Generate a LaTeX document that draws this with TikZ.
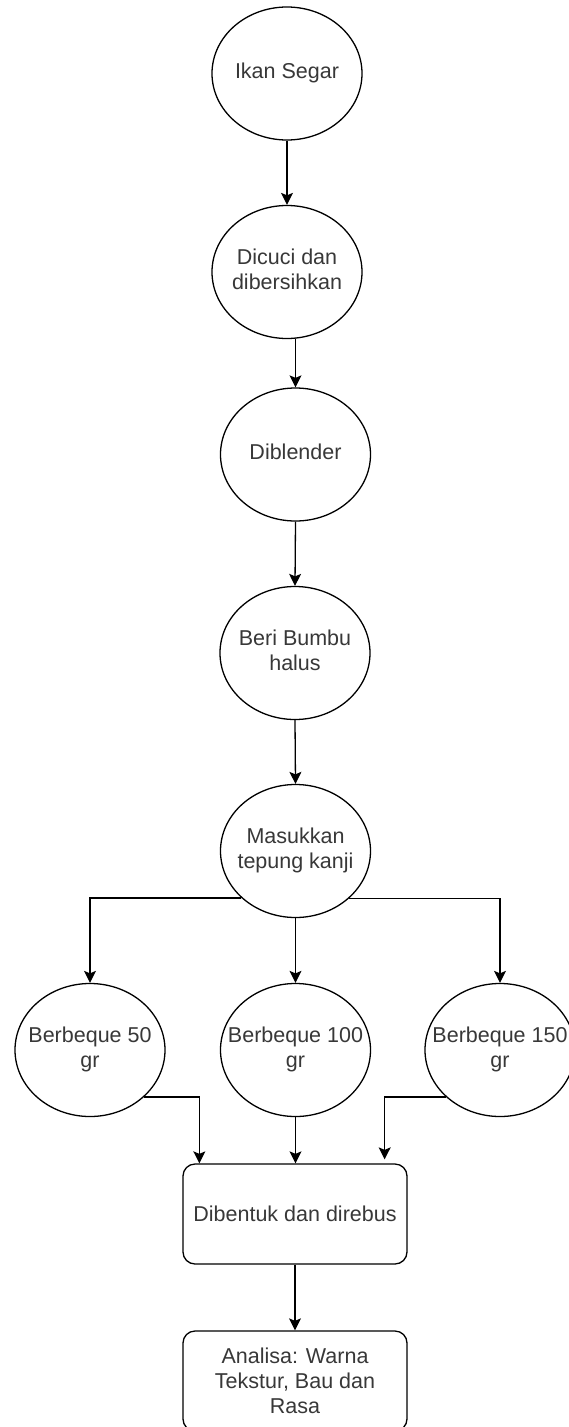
\documentclass[tikz,border=0pt]{standalone}
\usepackage{fontspec}
\setmainfont{Liberation Sans}
\usetikzlibrary{arrows.meta,calc,shapes.geometric}
\newcommand{\ovaltext}[1]{\makebox[0pt]{\begin{tabular}{@{}c@{}}#1\end{tabular}}}
\begin{document}
\begin{tikzpicture}[x=1pt,y=-1pt,
  txt/.style={text=black!78, font=\fontsize{21.5}{25}\selectfont, align=center},
  oval/.style={txt, draw=black, line width=1.3pt, ellipse, minimum width=150pt, minimum height=133pt, inner sep=0pt},
  box/.style={txt, draw=black, line width=1.3pt, rectangle, rounded corners=12pt, minimum width=224pt, minimum height=100pt, inner sep=0pt},
  conn/.style={line width=1.3pt, -{Stealth[length=12pt,width=12pt,inset=2.5pt]}}]
\useasboundingbox (0,0) rectangle (568,1427);
\fill[white] (0,0) rectangle (568,1427);
\node[oval] (ikan) at (287,73.5) {\ovaltext{Ikan Segar}};
\node[oval] (dicuci) at (287,272) {\ovaltext{Dicuci dan\\dibersihkan}};
\node[oval] (blender) at (295.5,454.5) {\ovaltext{Diblender}};
\node[oval] (bumbu) at (295,653) {\ovaltext{Beri Bumbu\\halus}};
\node[oval] (masuk) at (295.5,851) {\ovaltext{Masukkan\\tepung kanji}};
\node[oval] (b50) at (90,1050) {\ovaltext{Berbeque 50\\gr}};
\node[oval] (b100) at (295.5,1050) {\ovaltext{Berbeque 100\\gr}};
\node[oval] (b150) at (500,1050) {\ovaltext{Berbeque 150\\gr}};
\node[box] (form) at (295,1214) {Dibentuk dan direbus};
\node[box] (anal) at (295,1381) {Analisa: Warna\\Tekstur, Bau dan\\Rasa};
\coordinate (f50) at ($(form.north west)+(17,0)$);
\coordinate (f150) at ($(form.north east)+(-23,-4)$);
\draw[conn] (ikan.south) -- (dicuci.north);
\draw[conn] (dicuci.south -| blender.north) -- (blender.north);
\draw[conn] (blender.south) -- (bumbu.north);
\draw[conn] (bumbu.south) -- (masuk.north);
\draw[conn] (masuk.221.6) -| (b50.north);
\draw[conn] (masuk.south) -- (b100.north);
\draw[conn] (masuk.318.4) -| (b150.north);
\draw[conn] (b50.319.1) -| (f50);
\draw[conn] (b100.south) -- (b100.south |- form.north);
\draw[conn] (b150.221.6) -| (f150);
\draw[conn] (form.south) -- (anal.north);
\end{tikzpicture}
\end{document}
